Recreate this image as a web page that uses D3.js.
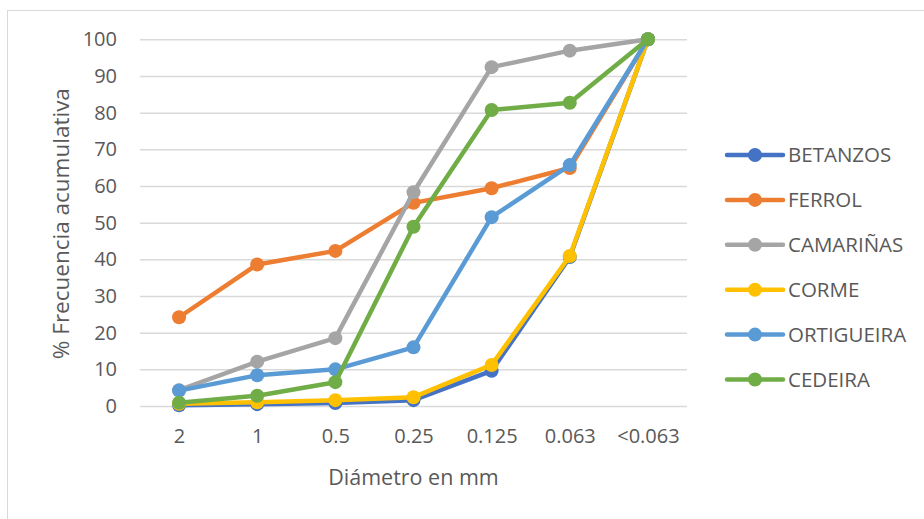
<!DOCTYPE html>
<html>
<head>
<meta charset="utf-8">
<script src="https://cdn.jsdelivr.net/npm/d3@7"></script>
<style>
  html, body { margin: 0; padding: 0; background: #fff; }
  svg { display: block; }
  text { font-family: "Open Sans", sans-serif; fill: #595959; }
</style>
</head>
<body>
<svg id="chart" width="924" height="519"></svg>
<script>
// Grain-size classes (mm)
const categories = ["2", "1", "0.5", "0.25", "0.125", "0.063", "<0.063"];

// Cumulative frequency (%) per sampling site
const betanzos   = [0.2, 0.5, 0.8, 1.6, 9.6, 40.6, 100];
const ferrol     = [24.2, 38.6, 42.3, 55.4, 59.4, 64.9, 100];
const camarinas  = [4.3, 12.1, 18.5, 58.3, 92.4, 96.9, 100];
const corme      = [0.6, 1.0, 1.6, 2.4, 11.2, 40.9, 100];
const ortigueira = [4.2, 8.4, 10.0, 16.0, 51.5, 65.7, 100];
const cedeira    = [0.9, 2.8, 6.5, 48.9, 80.7, 82.7, 100];

const seriesNames  = ["BETANZOS", "FERROL", "CAMARIÑAS", "CORME", "ORTIGUEIRA", "CEDEIRA"];
const seriesValues = [betanzos, ferrol, camarinas, corme, ortigueira, cedeira];
const seriesColors = ["#4472C4", "#ED7D31", "#A5A5A5", "#FFC000", "#5B9BD5", "#70AD47"];

const yTicks = [0, 10, 20, 30, 40, 50, 60, 70, 80, 90, 100];

const svg = d3.select("#chart");

// outer chart frame
svg.append("rect")
  .attr("x", 7.5).attr("y", 10.5)
  .attr("width", 930).attr("height", 520)
  .attr("fill", "none").attr("stroke", "#d9d9d9").attr("stroke-width", 1);

const plot = { left: 140, right: 687, top: 39.3, bottom: 406 };

const x = d3.scalePoint()
  .domain(categories)
  .range([plot.left, plot.right])
  .padding(0.5);

const y = d3.scaleLinear()
  .domain([0, 100])
  .range([plot.bottom, plot.top]);

// gridlines + y labels
const yAxis = d3.axisLeft(y)
  .tickValues(yTicks)
  .tickSize(-(plot.right - plot.left))
  .tickPadding(23)
  .tickFormat(d3.format("d"));

const gy = svg.append("g")
  .attr("transform", `translate(${plot.left},0)`)
  .call(yAxis);
gy.select(".domain").remove();
gy.selectAll(".tick line").attr("stroke", "#d9d9d9").attr("stroke-width", 1.5);
gy.selectAll(".tick text")
  .style("font-size", "20px")
  .attr("fill", "#595959");

// x labels
const xAxis = d3.axisBottom(x).tickSize(0).tickPadding(23);
const gx = svg.append("g")
  .attr("transform", `translate(0,${plot.bottom})`)
  .call(xAxis);
gx.select(".domain").remove();
gx.selectAll(".tick text")
  .style("font-size", "20px")
  .attr("fill", "#595959");

// axis titles
svg.append("text")
  .attr("x", (plot.left + plot.right) / 2)
  .attr("y", 485)
  .attr("text-anchor", "middle")
  .style("font-size", "21.5px")
  .text("Diámetro en mm");

svg.append("text")
  .attr("transform", `translate(69,${(plot.top + plot.bottom) / 2 + 1}) rotate(-90)`)
  .attr("text-anchor", "middle")
  .style("font-size", "22.5px")
  .text("% Frecuencia acumulativa");

// series
const line = d3.line()
  .x((d, i) => x(categories[i]))
  .y(d => y(d));

seriesValues.forEach((vals, si) => {
  const g = svg.append("g");
  g.append("path")
    .datum(vals)
    .attr("d", line)
    .attr("fill", "none")
    .attr("stroke", seriesColors[si])
    .attr("stroke-width", 4.5)
    .attr("stroke-linejoin", "round")
    .attr("stroke-linecap", "round");
  g.selectAll("circle")
    .data(vals)
    .join("circle")
    .attr("cx", (d, i) => x(categories[i]))
    .attr("cy", d => y(d))
    .attr("r", 7)
    .attr("fill", seriesColors[si]);
});

// legend
const legend = svg.append("g");
seriesNames.forEach((name, i) => {
  const yy = 155 + i * 44.9;
  legend.append("line")
    .attr("x1", 727).attr("x2", 783)
    .attr("y1", yy).attr("y2", yy)
    .attr("stroke", seriesColors[i])
    .attr("stroke-width", 4.5)
    .attr("stroke-linecap", "round");
  legend.append("circle")
    .attr("cx", 755).attr("cy", yy).attr("r", 7)
    .attr("fill", seriesColors[i]);
  legend.append("text")
    .attr("x", 788).attr("y", yy)
    .attr("dy", "0.35em")
    .style("font-size", "20.5px")
    .text(name);
});
</script>
</body>
</html>
